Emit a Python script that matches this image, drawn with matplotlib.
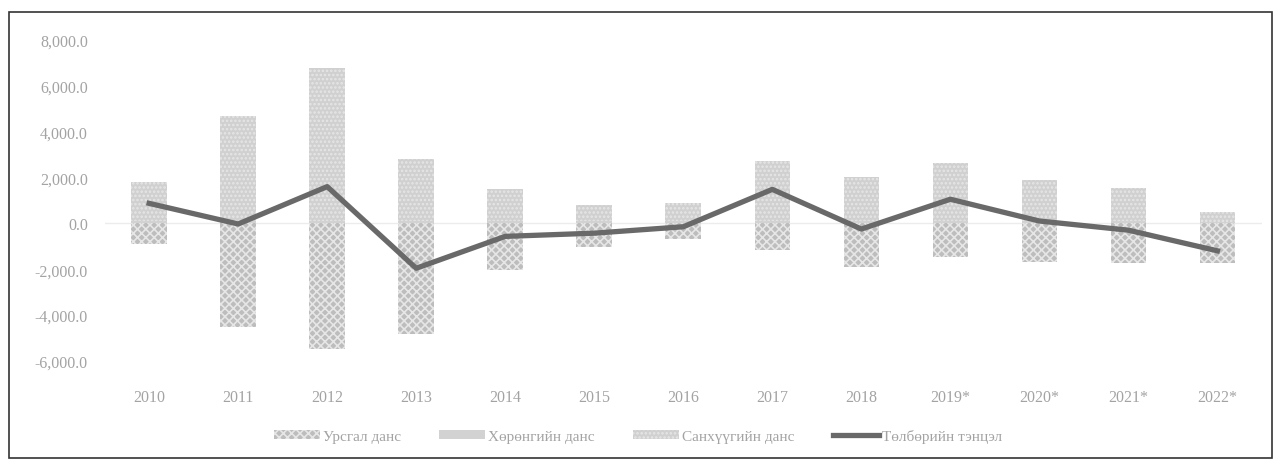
import matplotlib.pyplot as plt
from matplotlib.patches import Rectangle, Patch
from matplotlib.lines import Line2D
import matplotlib.ticker as mticker
import numpy as np

years = ['2010', '2011', '2012', '2013', '2014', '2015', '2016',
         '2017', '2018', '2019*', '2020*', '2021*', '2022*']
current_acc = [-900, -4520, -5470, -4830, -2040, -1040, -700,
               -1170, -1900, -1470, -1690, -1740, -1740]
capital_acc = [120, 110, 100, 110, 110, 100, 90, 90, 90, 100, 90, 80, 60]
financial_acc = [1700, 4580, 6680, 2680, 1370, 690, 810,
                 2610, 1910, 2550, 1820, 1440, 420]
balance = [870, -30, 1600, -1960, -570, -430, -150,
           1480, -250, 1050, 100, -300, -1200]

plt.rcParams['font.family'] = ['Liberation Serif', 'DejaVu Serif']
plt.rcParams['hatch.linewidth'] = 1.2
text_col = '#a3a3a3'

fig = plt.figure(figsize=(12.76, 4.64), dpi=100)
ax = fig.add_axes([0.082, 0.22, 0.907, 0.692])

x = np.arange(len(years))
w = 0.4
ax.bar(x, current_acc, w, color='#bdbdbd', edgecolor='#e6e6e6', hatch='xxxx', linewidth=0, zorder=2)
ax.bar(x, capital_acc, w, color='#d2d2d2', edgecolor='#e4e4e4', linewidth=0, zorder=2)
ax.bar(x, financial_acc, w, bottom=capital_acc, color='#d0d0d0', edgecolor='#e6e6e6',
       hatch='....', linewidth=0, zorder=2)
ax.plot(x, balance, color='#696969', linewidth=3.8, zorder=3)
ax.axhline(0, color='#ececec', linewidth=1, zorder=1)

ax.set_xlim(-0.5, len(years) - 0.5)
ax.set_ylim(-6000, 8000)
ax.set_yticks(range(-6000, 8001, 2000))
ax.yaxis.set_major_formatter(mticker.FuncFormatter(lambda v, p: f'{v:,.1f}'))
ax.set_xticks(x)
ax.set_xticklabels(years)
ax.tick_params(length=0, labelsize=11.5, colors=text_col)
ax.tick_params(axis='x', pad=20)
ax.tick_params(axis='y', pad=12)
for s in ax.spines.values():
    s.set_visible(False)

handles = [
    Patch(facecolor='#bdbdbd', edgecolor='#e6e6e6', hatch='xxxx', linewidth=0),
    Patch(facecolor='#d2d2d2', edgecolor='#e4e4e4', linewidth=0),
    Patch(facecolor='#d0d0d0', edgecolor='#e6e6e6', hatch='....', linewidth=0),
    Line2D([0], [0], color='#696969', linewidth=3.8),
]
labels = ['Урсгал данс', 'Хөрөнгийн данс', 'Санхүүгийн данс', 'Төлбөрийн тэнцэл']
leg = fig.legend(handles, labels, loc='center', bbox_to_anchor=(0.5, 0.058), ncol=4,
                 frameon=False, fontsize=11, handlelength=3, handleheight=0.5,
                 columnspacing=2.5, handletextpad=0.2)
for t in leg.get_texts():
    t.set_color(text_col)

fig.patches.append(Rectangle((0.007, 0.01), 0.99, 0.962, transform=fig.transFigure,
                             fill=False, edgecolor='#333333', linewidth=1.2))

fig.savefig('out.png', dpi=100)
